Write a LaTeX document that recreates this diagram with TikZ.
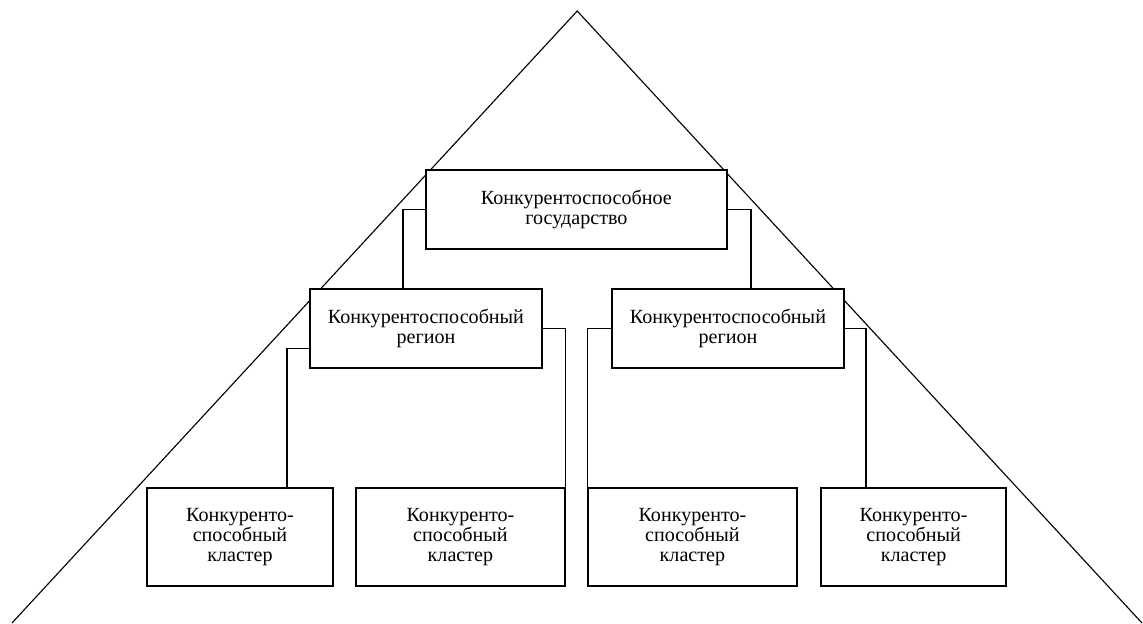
\documentclass[tikz,border=0pt]{standalone}
\usepackage{fontspec}
\setmainfont{Liberation Serif}
\usepackage{tikz}
\usetikzlibrary{calc}
\usetikzlibrary{positioning}

\tikzset{
    levelbox/.style={draw=black, line width=0.9pt, fill=white, align=center, inner sep=0pt,
                     font=\fontsize{14.3}{14.5}\selectfont},
    link/.style={draw=black, line width=0.9pt},
}

\begin{document}
\begin{tikzpicture}
            % Frame to ensure alignment:
            \useasboundingbox                                                 ( 0.00, 0.00) rectangle (28.575, 15.575);
            % Pyramid
            \draw[line width=0.8pt]                                           ( 0.30, 0.00) -- (14.43, 15.30) -- (28.55, 0.00);
            % State
            \node[levelbox, minimum width=7.525cm, minimum height=1.975cm] (state) at (14.41, 10.34) {Конкурентоспособное\\государство};
            % Regions
            \node[levelbox, minimum width=5.80cm,  minimum height=1.975cm] (regL)  at (10.65,  7.36) {Конкурентоспособный\\регион};
            \node[levelbox, minimum width=5.80cm,  minimum height=1.975cm] (regR)  at (18.20,  7.36) {Конкурентоспособный\\регион};
            % Clusters
            \node[levelbox, minimum width=4.65cm,  minimum height=2.45cm]  (clA)   at ( 6.00,  2.15) {Конкуренто-\\способный\\кластер};
            \node[levelbox, minimum width=5.225cm, minimum height=2.45cm]  (clB)   at (11.51,  2.15) {Конкуренто-\\способный\\кластер};
            \node[levelbox, minimum width=5.225cm, minimum height=2.45cm]  (clC)   at (17.31,  2.15) {Конкуренто-\\способный\\кластер};
            \node[levelbox, minimum width=4.625cm, minimum height=2.45cm]  (clD)   at (22.84,  2.15) {Конкуренто-\\способный\\кластер};
            % State to regions
            \draw[link] (state.west) -| ([xshift=-0.575cm]regL.north);
            \draw[link] (state.east) -| ([xshift= 0.575cm]regR.north);
            % Regions to clusters
            \draw[link] ([yshift=-0.49cm]regL.west) -| ([xshift= 1.175cm]clA.north);
            \draw[link] (regL.east) -| (clB.north east);
            \draw[link] (regR.west) -| (clC.north west);
            \draw[link] (regR.east) -| ([xshift=-1.19cm]clD.north);
        \end{tikzpicture}
\end{document}
